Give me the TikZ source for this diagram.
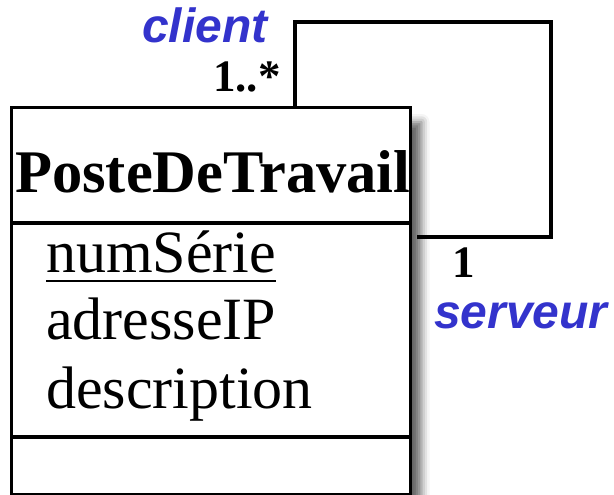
\documentclass[tikz,border=0pt]{standalone}
\usepackage{fontspec}
\setmainfont{Liberation Serif}
\newfontfamily\rolefont{Liberation Sans}
\usetikzlibrary{shadows.blur}
\definecolor{roleblue}{RGB}{51,51,204}
\tikzset{
  classbox/.style={draw=black, line width=3pt, fill=white, inner sep=0pt,
    blur shadow={shadow xshift=11pt, shadow yshift=-14pt,
      shadow blur radius=8pt, shadow opacity=60}},
  divider/.style={line width=4.5pt},
  assoc/.style={line width=3.2pt, line join=miter},
  rolename/.style={inner sep=0pt, anchor=base west, text=roleblue,
    font=\rolefont\bfseries\itshape\fontsize{48}{48}\selectfont},
  mult/.style={inner sep=0pt, anchor=base west,
    font=\bfseries\fontsize{45}{45}\selectfont},
  attr/.style={inner sep=0pt, anchor=base west,
    font=\fontsize{60}{60}\selectfont},
  clsname/.style={inner sep=0pt, anchor=base west,
    font=\bfseries\fontsize{60.5}{60.5}\selectfont}
}
\begin{document}
\begin{tikzpicture}[x=1pt,y=-1pt]
\useasboundingbox (0,0) rectangle (614,495);

% class box with its compartments
\node[classbox, minimum width=399pt, minimum height=386pt] (cls) at (211,301) {};
\draw[divider] (cls.west |- 0,223) -- (cls.east |- 0,223);
\draw[divider] (cls.west |- 0,437) -- (cls.east |- 0,437);

\node[clsname] (name) at (15,193) {PosteDeTravail};

\node[attr] (numS) at (46,272) {numSérie};
\draw[line width=2.5pt] ([yshift=-9pt]numS.base west) -- ([yshift=-9pt]numS.base east);
\node[attr] (addr) at (46,339) {adresseIP};
\node[attr] (desc) at (46,408) {description};

% reflexive association
\coordinate (srvEnd) at (417,237);
\draw[assoc] (cls.north -| 295,0) |- (551,22) |- (srvEnd);

% role names and multiplicities
\node[rolename] (client) at (142,43) {client};
\node[mult] (mClient) at (213,92) {1..*};
\node[mult] (mServ) at (452,277) {1};
\node[rolename] (serveur) at (434,328) {serveur};
\end{tikzpicture}
\end{document}
